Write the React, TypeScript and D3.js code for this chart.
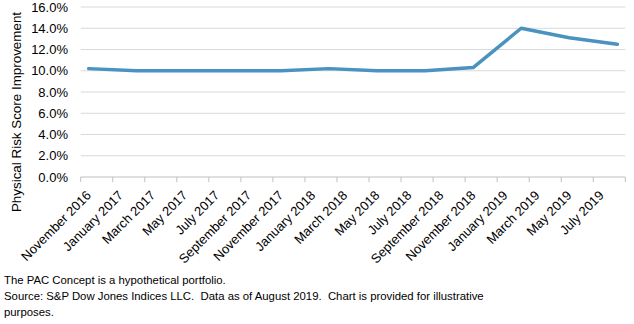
import React from "react";
import * as d3 from "d3";

const tickLabels = [
  "November 2016", "January 2017", "March 2017", "May 2017", "July 2017",
  "September 2017", "November 2017", "January 2018", "March 2018", "May 2018",
  "July 2018", "September 2018", "November 2018", "January 2019", "March 2019",
  "May 2019", "July 2019",
];
// observation months (months since November 2016)
const obsMonths = [0, 3, 6, 9, 12, 15, 18, 21, 24, 27, 30, 33];
const obsValues = [10.2, 10.0, 10.0, 10.0, 10.0, 10.2, 10.0, 10.0, 10.3, 14.0, 13.1, 12.5];
const yTicks = [0, 2, 4, 6, 8, 10, 12, 14, 16];
const footer = [
  "The PAC Concept is a hypothetical portfolio.",
  "Source: S&P Dow Jones Indices LLC.  Data as of August 2019.  Chart is provided for illustrative",
  "purposes.",
];

export default function App() {
  const W = 634, H = 324;
  const x = d3.scaleLinear().domain([0, 34]).range([80.7, 625.3]);
  const y = d3.scaleLinear().domain([0, 16]).range([177, 7]);
  const line = d3
    .line<number>()
    .x((_, i) => x(obsMonths[i] + 0.5))
    .y((d) => y(d));
  const font = "Arial, 'Liberation Sans', sans-serif";
  const bandTicks = d3.range(0, 35, 2);
  return (
    <svg
      width={W}
      height={H}
      style={{ position: "absolute", left: 0, top: 0, background: "#fff" }}
      fontFamily={font}
    >
      <rect width={W} height={H} fill="#fff" />
      {yTicks.filter((t) => t > 0).map((t) => (
        <line key={t} x1={x(0)} x2={x(34)} y1={y(t)} y2={y(t)} stroke="#d9d9d9" strokeWidth={1} />
      ))}
      <line x1={x(0)} x2={x(34)} y1={y(0)} y2={y(0)} stroke="#bfbfbf" strokeWidth={1} />
      {bandTicks.map((k) => (
        <line key={k} x1={x(k)} x2={x(k)} y1={y(0)} y2={y(0) + 5} stroke="#bfbfbf" strokeWidth={1} />
      ))}
      {yTicks.map((t) => (
        <text key={t} x={68} y={y(t)} dy="0.35em" textAnchor="end" fontSize={13} fill="#000">
          {t.toFixed(1) + "%"}
        </text>
      ))}
      <text
        transform={`translate(16,${112}) rotate(-90)`}
        textAnchor="middle"
        dy="0.35em"
        fontSize={13.4}
        fill="#000"
      >
        Physical Risk Score Improvement
      </text>
      {tickLabels.map((lab, i) => {
        const px = x(i * 2 + 0.5);
        const py = 193;
        return (
          <text
            key={lab}
            transform={`translate(${px},${py}) rotate(-45)`}
            textAnchor="end"
            dy="0.35em"
            fontSize={13}
            fill="#000"
          >
            {lab}
          </text>
        );
      })}
      <path
        d={line(obsValues) || ""}
        fill="none"
        stroke="#4a92c0"
        strokeWidth={3.5}
        strokeLinejoin="round"
        strokeLinecap="round"
      />
      {footer.map((f, i) => (
        <text key={i} x={4} y={284 + i * 15.8} fontSize={11.35} fill="#000" style={{ whiteSpace: "pre" }}>
          {f}
        </text>
      ))}
    </svg>
  );
}
